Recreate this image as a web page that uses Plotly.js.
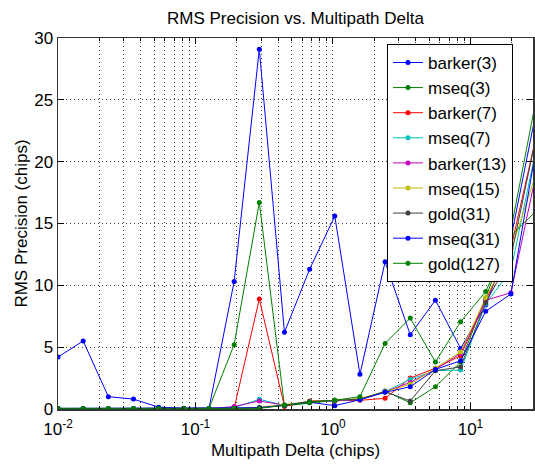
<!DOCTYPE html>
<html>
<head>
<meta charset="utf-8">
<script src="https://cdn.plot.ly/plotly-3.0.1.min.js"></script>
<style>html,body{margin:0;padding:0;background:#fff;overflow:hidden;}</style>
</head>
<body>
<div id="chart" style="width:535px;height:464px;"></div>
<script>
// Multipath delta (chips)
var delta = [0.01, 0.01524, 0.02323, 0.0354, 0.05396, 0.08224, 0.12535, 0.19105, 0.29118, 0.44378,
             0.67637, 1.0307, 1.5711, 2.3942, 3.649, 5.5616, 8.4763, 12.918, 19.69, 30];

var seriesNames = ['barker(3)', 'mseq(3)', 'barker(7)', 'mseq(7)', 'barker(13)', 'mseq(15)', 'gold(31)', 'mseq(31)', 'gold(127)'];
var seriesColors = ['#0000ff', '#008000', '#ff0000', '#00bfbf', '#bf00bf', '#bfbf00', '#404040', '#0000ff', '#008000'];

var barker3  = [4.2, 5.5, 1.0, 0.8, 0.15, 0.05, 0.05, 10.3, 29.1, 6.2, 11.3, 15.6, 2.8, 11.9, 6.0, 8.8, 4.9, 8.4, 13.8, 24];
var mseq3    = [0.05, 0.05, 0.05, 0.05, 0.05, 0.05, 0.05, 5.2, 16.7, 0.25, 0.5, 0.7, 0.75, 1.45, 0.5, 1.8, 3.8, 9.0, 14.5, 25];
var barker7  = [0.02, 0.02, 0.02, 0.02, 0.02, 0.02, 0.02, 0.05, 8.9, 0.2, 0.65, 0.65, 0.7, 0.86, 2.5, 3.3, 4.3, 8.8, 13.0, 22];
var mseq7    = [0.02, 0.02, 0.02, 0.02, 0.02, 0.02, 0.02, 0.1, 0.78, 0.3, 0.6, 0.65, 0.8, 1.4, 2.4, 3.1, 3.15, 8.5, 11.2, 21];
var barker13 = [0.02, 0.02, 0.02, 0.02, 0.02, 0.02, 0.02, 0.2, 0.65, 0.3, 0.6, 0.65, 0.8, 1.4, 2.15, 3.2, 4.5, 8.8, 9.4, 19];
var mseq15   = [0.02, 0.02, 0.02, 0.02, 0.02, 0.02, 0.02, 0.05, 0.14, 0.35, 0.6, 0.7, 0.85, 1.4, 2.0, 3.3, 4.6, 9.0, 12.8, 19];
var gold31   = [0.02, 0.02, 0.02, 0.02, 0.02, 0.02, 0.02, 0.05, 0.1, 0.3, 0.6, 0.7, 0.8, 1.4, 0.65, 3.1, 3.4, 8.6, 12.3, 22];
var mseq31   = [0.05, 0.05, 0.05, 0.05, 0.05, 0.05, 0.05, 0.05, 0.1, 0.3, 0.55, 0.27, 0.75, 1.35, 1.8, 3.2, 3.9, 7.9, 9.3, 21];
var gold127  = [0.05, 0.05, 0.05, 0.05, 0.05, 0.05, 0.05, 0.05, 0.05, 0.3, 0.55, 0.7, 1.0, 5.3, 7.35, 3.8, 7.05, 9.5, 14.0, 16];

var xTickVals = [0.01, 0.1, 1, 10];
var xTickText = ['10<sup>-2</sup>', '10<sup>-1</sup>', '10<sup>0</sup>', '10<sup>1</sup>'];
var yTickVals = [0, 5, 10, 15, 20, 25, 30];

var allSeries = [barker3, mseq3, barker7, mseq7, barker13, mseq15, gold31, mseq31, gold127];

var traces = allSeries.map(function (vals, i) {
  return {
    x: delta, y: vals, name: seriesNames[i], type: 'scatter', mode: 'lines+markers',
    line: {color: seriesColors[i], width: 1},
    marker: {color: seriesColors[i], size: 5, symbol: 'circle'}
  };
});

// minor gridline positions (2..9 per decade)
var minorVals = [];
[0.01, 0.1, 1, 10].forEach(function (d) {
  for (var k = 2; k <= 9; k++) minorVals.push(d * k);
});

var font = {family: 'Arial, "Liberation Sans", sans-serif', size: 17, color: '#000'};
var gridCol = 'rgba(0,0,0,0.75)';
var gridDash = '1px,3px';

var layout = {
  width: 535, height: 464,
  margin: {l: 58, r: 2, t: 38, b: 55},
  paper_bgcolor: '#fff', plot_bgcolor: '#fff',
  font: font,
  showlegend: true,
  title: {text: 'RMS Precision vs. Multipath Delta', font: {family: font.family, size: 17, color: '#000'},
          x: 0.5, xref: 'paper', xanchor: 'center', y: 1 - 18 / 464, yref: 'container', yanchor: 'middle'},
  xaxis: {
    type: 'log', range: [-2, 1.455],
    tickmode: 'array', tickvals: xTickVals, ticktext: xTickText,
    ticks: 'inside', ticklen: 6, tickcolor: '#000', mirror: 'ticks',
    ticklabelstandoff: 4,
    showline: true, linecolor: '#333', linewidth: 1.5,
    showgrid: true, gridcolor: gridCol, griddash: gridDash, gridwidth: 1,
    zeroline: false,
    minor: {tickmode: 'array', tickvals: minorVals, ticks: 'inside', ticklen: 3, tickcolor: '#000',
            showgrid: true, gridcolor: gridCol, griddash: gridDash, gridwidth: 1},
    tickfont: font,
    title: {text: 'Multipath Delta (chips)', font: font, standoff: 6}
  },
  yaxis: {
    range: [0, 30], tickmode: 'array', tickvals: yTickVals,
    ticks: 'inside', ticklen: 6, tickcolor: '#000', mirror: 'ticks',
    showline: true, linecolor: '#333', linewidth: 1.5,
    showgrid: true, gridcolor: gridCol, griddash: gridDash, gridwidth: 1,
    zeroline: false,
    tickfont: font,
    title: {text: 'RMS Precision (chips)', font: font, standoff: 2}
  },
  legend: {
    x: 0.6926, y: 0.984, xanchor: 'left', yanchor: 'top',
    bgcolor: '#fff', bordercolor: '#000', borderwidth: 1,
    font: font, tracegroupgap: 0
  }
};

Plotly.newPlot('chart', traces, layout, {displayModeBar: false, staticPlot: true});
</script>
</body>
</html>
